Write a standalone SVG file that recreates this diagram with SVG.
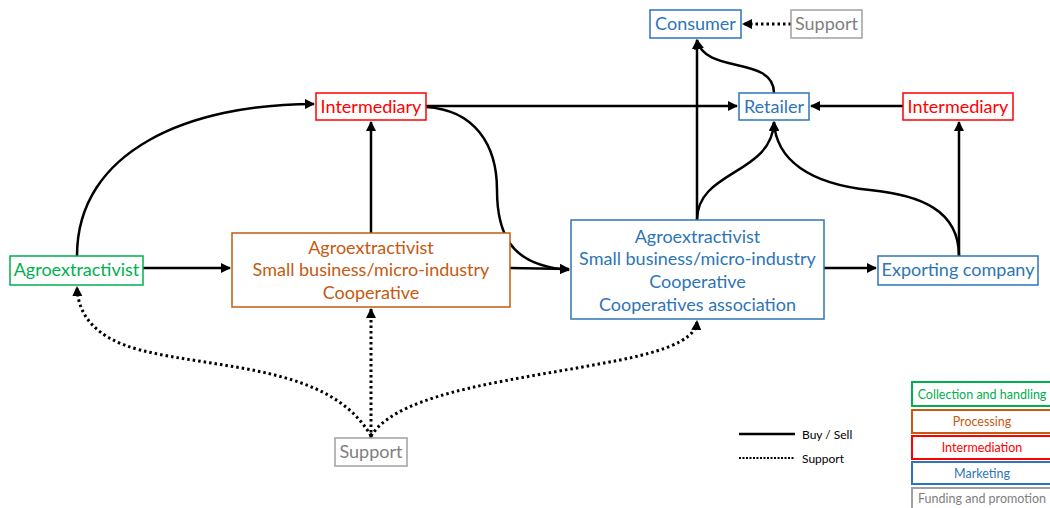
<svg xmlns="http://www.w3.org/2000/svg" width="1050" height="508" viewBox="0 0 1050 508">
  <style>
    text { font-family: Lato, "Liberation Sans", sans-serif; text-anchor: middle; }
    .lbl { font-size: 18px; }
    .box { fill: #fff; stroke-width: 1.5; }
    .g { fill: #00B050; } .gb { stroke: #00B050; }
    .o { fill: #C55A11; } .ob { stroke: #C55A11; }
    .r { fill: #FF0000; } .rb { stroke: #FF0000; }
    .b { fill: #2E75B6; } .bb { stroke: #2E75B6; }
    .s { fill: #808080; } .sb { stroke: #A0A0A0; }
    .sell { fill: none; stroke: #000; stroke-width: 2.5; }
    .sup { fill: none; stroke: #000; stroke-width: 3; stroke-dasharray: 2.5 3; }
    .leg { font-size: 12.5px; }
    .legbox { fill: #fff; stroke-width: 2; }
  </style>
  <defs>
    <marker id="arr" viewBox="0 0 10 10" refX="9" refY="5" markerWidth="4" markerHeight="4" orient="auto" markerUnits="strokeWidth">
      <path d="M0,0 L10,5 L0,10 Z" fill="#000"/>
    </marker>
    <marker id="arrd" viewBox="0 0 10 10" refX="9" refY="5" markerWidth="3.4" markerHeight="3.4" orient="auto" markerUnits="strokeWidth">
      <path d="M0,0 L10,5 L0,10 Z" fill="#000"/>
    </marker>
  </defs>

  <g id="connectors">
    <!-- buy / sell flows -->
    <path class="sell" d="M77,256 C77,150 190,104 314,104" marker-end="url(#arr)"/>
    <path class="sell" d="M143,268 L230,268" marker-end="url(#arr)"/>
    <path class="sell" d="M371,233 L371,122" marker-end="url(#arr)"/>
    <path class="sell" d="M426,106 L737,106" marker-end="url(#arr)"/>
    <path class="sell" d="M426,107 C475,110 497,145 497,190 C497,245 520,266 569,270" marker-end="url(#arr)"/>
    <path class="sell" d="M510,268 L569,269" marker-end="url(#arr)"/>
    <path class="sell" d="M697,220 L697,40" marker-end="url(#arr)"/>
    <path class="sell" d="M697,220 C697,170 772,175 774,122" marker-end="url(#arr)"/>
    <path class="sell" d="M774,93 C774,55 705,75 697,40" marker-end="url(#arr)"/>
    <path class="sell" d="M824,268 L876,268" marker-end="url(#arr)"/>
    <path class="sell" d="M959,256 L959,122" marker-end="url(#arr)"/>
    <path class="sell" d="M959,256 C959,210 920,195 870,190 C810,184 776,160 774,122" marker-end="url(#arr)"/>
    <path class="sell" d="M903,106 L811,106" marker-end="url(#arr)"/>
    <!-- support flows -->
    <path class="sup" d="M791,24 L743,24" marker-end="url(#arrd)"/>
    <path class="sup" d="M371,438 L371,309" marker-end="url(#arrd)"/>
    <path class="sup" d="M371,436 C330,365 220,370 140,350 C95,338 78,315 77,287" marker-end="url(#arrd)"/>
    <path class="sup" d="M371,436 C400,390 520,380 620,360 C680,348 696,335 697,321" marker-end="url(#arrd)"/>
  </g>

  <g id="consumer">
    <rect class="box bb" x="650" y="10" width="91" height="28"/>
    <text class="lbl b" x="695.5" y="30">Consumer</text>
  </g>
  <g id="support-consumer">
    <rect class="box sb" x="791" y="10" width="71" height="28"/>
    <text class="lbl s" x="826.5" y="30">Support</text>
  </g>
  <g id="intermediary-left">
    <rect class="box rb" x="316" y="93" width="110" height="27"/>
    <text class="lbl r" x="371" y="113">Intermediary</text>
  </g>
  <g id="retailer">
    <rect class="box bb" x="739" y="93" width="70" height="27"/>
    <text class="lbl b" x="774" y="113">Retailer</text>
  </g>
  <g id="intermediary-right">
    <rect class="box rb" x="903" y="93" width="110" height="27"/>
    <text class="lbl r" x="958" y="113">Intermediary</text>
  </g>
  <g id="collector">
    <rect class="box gb" x="10" y="256" width="133" height="29"/>
    <text class="lbl g" x="76.5" y="276">Agroextractivist</text>
  </g>
  <g id="processing">
    <rect class="box ob" x="232" y="233" width="278" height="74"/>
    <text class="lbl o" x="371" y="254">Agroextractivist</text>
    <text class="lbl o" x="371" y="276">Small business/micro-industry</text>
    <text class="lbl o" x="371" y="299">Cooperative</text>
  </g>
  <g id="marketing">
    <rect class="box bb" x="571" y="220" width="253" height="99"/>
    <text class="lbl b" x="697.5" y="243">Agroextractivist</text>
    <text class="lbl b" x="697.5" y="265">Small business/micro-industry</text>
    <text class="lbl b" x="697.5" y="288">Cooperative</text>
    <text class="lbl b" x="697.5" y="311">Cooperatives association</text>
  </g>
  <g id="exporting-company">
    <rect class="box bb" x="878" y="256" width="160" height="29"/>
    <text class="lbl b" x="958" y="276">Exporting company</text>
  </g>
  <g id="support-bottom">
    <rect class="box sb" x="335" y="438" width="72" height="28"/>
    <text class="lbl s" x="371" y="458">Support</text>
  </g>

  <g id="legend-lines">
    <line x1="739" y1="434" x2="795" y2="434" stroke="#000" stroke-width="2.5"/>
    <line x1="739" y1="458" x2="795" y2="458" stroke="#000" stroke-width="2" stroke-dasharray="2 1.5"/>
    <text x="802" y="439" style="text-anchor:start; font-size:12px">Buy / Sell</text>
    <text x="802" y="463" style="text-anchor:start; font-size:12px">Support</text>
  </g>
  <g id="legend-boxes">
    <rect class="legbox gb" x="912" y="382" width="150" height="24"/>
    <text class="leg g" x="982" y="399">Collection and handling</text>
    <rect class="legbox ob" x="912" y="410" width="150" height="23"/>
    <text class="leg o" x="982" y="426">Processing</text>
    <rect class="legbox rb" x="912" y="436" width="150" height="23"/>
    <text class="leg r" x="982" y="452">Intermediation</text>
    <rect class="legbox bb" x="912" y="462" width="150" height="22"/>
    <text class="leg b" x="982" y="478">Marketing</text>
    <rect class="legbox sb" x="912" y="488" width="150" height="24"/>
    <text class="leg s" x="982" y="503">Funding and promotion</text>
  </g>
</svg>
